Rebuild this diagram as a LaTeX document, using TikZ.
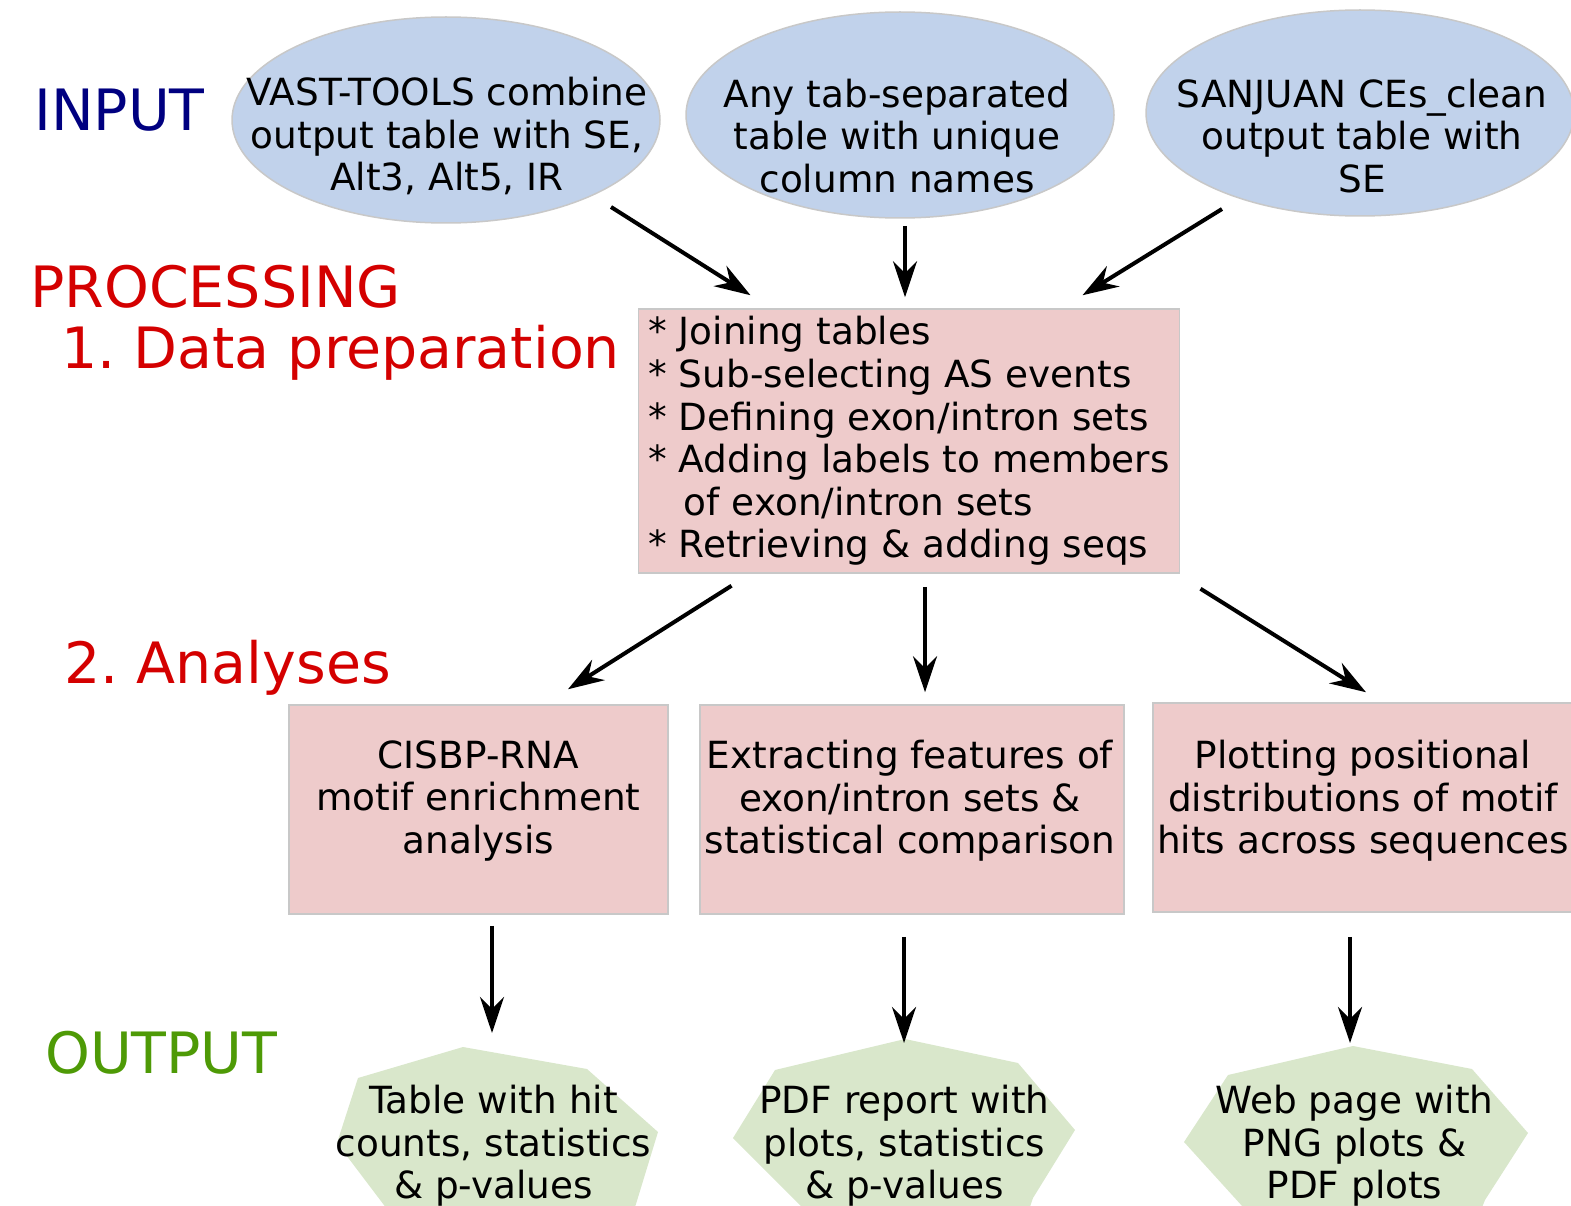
\documentclass[tikz,border=0pt]{standalone}
\usepackage{fontspec}
\setmainfont{DejaVu Sans}
\usetikzlibrary{shapes.geometric,arrows.meta,calc}

\definecolor{inblue}{RGB}{193,210,235}
\definecolor{procpink}{RGB}{238,203,203}
\definecolor{outgreen}{RGB}{217,231,203}
\definecolor{edgegray}{RGB}{200,200,200}
\definecolor{navyblue}{RGB}{0,0,128}
\definecolor{labelred}{RGB}{212,0,0}
\definecolor{labelgreen}{RGB}{78,154,6}

\newcommand{\bodyfont}{\fontsize{37.4}{42.6}\selectfont}
\newcommand{\headfont}{\fontsize{57}{68}\selectfont}

\tikzset{
	inshape/.style={ellipse, fill=inblue, draw=edgegray, line width=1.5pt,
		minimum width=428pt, minimum height=206pt, inner sep=0pt},
	anbox/.style={rectangle, fill=procpink, draw=edgegray, line width=1.5pt,
		minimum height=209pt, inner sep=0pt},
	preptext/.style={rectangle, fill=procpink, draw=edgegray, line width=1.5pt,
		align=left, inner xsep=10pt, inner ysep=0pt,
		minimum width=541pt, minimum height=264pt, font=\bodyfont},
	boxtext/.style={align=center, inner sep=0pt, font=\bodyfont},
	head/.style={anchor=base west, inner sep=0pt, font=\headfont},
	arr/.style={line width=4pt, -{Stealth[length=36pt,width=24pt,inset=12pt]}},
}

\begin{document}
\begin{tikzpicture}[x=1pt,y=-1pt]
	\useasboundingbox (0,0) rectangle (1571,1206);
	\clip (0,0) rectangle (1571,1206);

	% output shapes
	\fill[outgreen] (463,1047) -- (587,1069) -- (658,1132) -- (636,1204) -- (620,1250)
		-- (418,1250) -- (337,1143) -- (358,1078) -- cycle;
	\fill[outgreen] (905,1039) -- (1018,1063) -- (1075,1130) -- (1033,1198) -- (1015,1250)
		-- (845,1250) -- (733,1138) -- (775,1070) -- cycle;
	\fill[outgreen] (1353,1046) -- (1472,1069) -- (1528,1133) -- (1485,1200) -- (1465,1250)
		-- (1282,1250) -- (1184,1142) -- (1228,1075) -- cycle;

	% left labels
	\node[head, text=navyblue] (lblinput) at (34,131) {INPUT};
	\node[head, text=labelred] (lblproc) at (30,308) {PROCESSING};
	\node[head, text=labelred] (lblprep) at (61,368) {1.\ Data preparation};
	\node[head, text=labelred] (lblanalyses) at (64,683) {2.\ Analyses};
	\node[head, text=labelgreen] (lbloutput) at (45,1073) {OUTPUT};

	% input
	\node[inshape] (in1) at (446,120) {};
	\node[inshape] (in2) at (900,115) {};
	\node[inshape] (in3) at (1360,113) {};
	\node[boxtext] (in1t) at (447,136) {VAST-TOOLS combine\\output table with SE,\\Alt3, Alt5, IR};
	\node[boxtext] (in2t) at (897,136) {Any tab-separated\\table with unique\\column names};
	\node[boxtext] (in3t) at (1362,136) {SANJUAN CEs\_clean\\output table with\\SE};

	% processing
	\node[preptext] (prep) at (909,441) {{*} Joining tables\\
		{*} Sub-selecting AS events\\
		{*} Defining exon/intron sets\\
		{*} Adding labels to members\\
		\phantom{*}\ \hspace*{5pt}of exon/intron sets\\
		{*} Retrieving \& adding seqs};

	% analyses
	\node[anbox, minimum width=379pt] (an1) at (478.5,809.5) {};
	\node[anbox, minimum width=424pt] (an2) at (912,809.5) {};
	\node[anbox, minimum width=420pt] (an3) at (1363,807.5) {};
	\node[boxtext] (an1t) at (478.5,801) {CISBP-RNA\\motif enrichment\\analysis};
	\node[boxtext] (an2t) at (910,801) {Extracting features of\\exon/intron sets \&\\statistical comparison};
	\node[boxtext] (an3t) at (1363,801) {Plotting positional\\distributions of motif\\hits across sequences};

	% outputs
	\node[boxtext] (out1) at (493.5,1146) {Table with hit\\counts, statistics\\\& p-values};
	\node[boxtext] (out2) at (904.5,1146) {PDF report with\\plots, statistics\\\& p-values};
	\node[boxtext] (out3) at (1354.5,1146) {Web page with\\PNG plots \&\\PDF plots};

	% arrows
	\draw[arr] ($(in1)+(165,87)$) -- ($(prep.north west)+(113,-13)$);
	\draw[arr] ($(in2)+(5,111)$) -- ($(prep.north)+(-4,-11)$);
	\draw[arr] ($(in3)+(-138,96)$) -- ($(prep.north east)+(-98,-13)$);
	\draw[arr] ($(prep.south west)+(94,12)$) -- ($(an1.north)+(89.5,-15)$);
	\draw[arr] ($(prep.south)+(16,13)$) -- ($(an2.north)+(13,-12)$);
	\draw[arr] ($(prep.south east)+(20,15)$) -- ($(an3.north)+(3,-10)$);
	\draw[arr] ($(an1.south)+(13.5,11)$) -- ($(out1)+(-1.5,-113)$);
	\draw[arr] ($(an2.south)+(-8,22)$) -- ($(out2)+(-0.5,-103)$);
	\draw[arr] ($(an3.south)+(-13,24)$) -- ($(out3)+(-4.5,-103)$);
\end{tikzpicture}
\end{document}
